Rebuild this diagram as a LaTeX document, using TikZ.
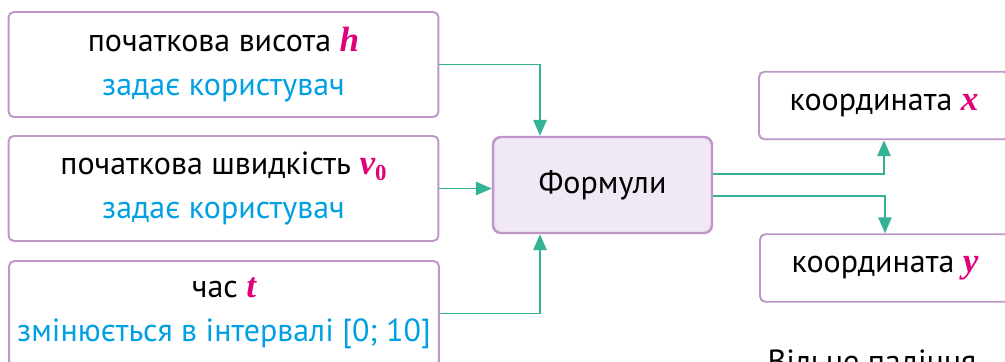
\documentclass[tikz,border=0pt]{standalone}
\usepackage{fontspec}
\setmainfont{PT Sans}
\newfontfamily\varfont{Liberation Serif}
\usetikzlibrary{arrows.meta, positioning, calc}
\definecolor{mpurple}{RGB}{190,150,200}
\definecolor{mfill}{RGB}{240,232,245}
\definecolor{mteal}{RGB}{52,178,150}
\definecolor{mblue}{RGB}{0,160,227}
\definecolor{mpink}{RGB}{226,0,122}
\newcommand{\var}[1]{{\varfont\bfseries\itshape\color{mpink}\fontsize{20}{25}\selectfont#1}}
\newcommand{\varsub}[1]{{\color{mpink}\raisebox{-0.35ex}{\varfont\bfseries\fontsize{13}{15}\selectfont#1}}}

\begin{document}
\begin{tikzpicture}[x=0.02cm, y=-0.02cm,
  box/.style={draw=mpurple, line width=1.1pt, rounded corners=3pt, fill=white,
  align=center, inner sep=0pt, font=\fontsize{18.2}{25}\selectfont},
  inbox/.style={box, minimum width=8.6cm, minimum height=2.1cm},
  outbox/.style={box, minimum width=5cm, minimum height=1.35cm},
  arr/.style={-{Triangle[length=9pt, width=7.5pt]}, line width=1.1pt, mteal}
]
\clip (0,0) rectangle (1005,362);
\node[inbox] (height) at (223.5, 64.5) {початкова висота \var{h}\\ \textcolor{mblue}{задає користувач}};
\node[inbox] (speed)  at (223.5,188.5) {початкова швидкість \var{v}\varsub{0}\\ \textcolor{mblue}{задає користувач}};
\node[inbox] (time)   at (224,  313.5) {час \var{t}\\ \textcolor{mblue}{змінюється в інтервалі [0; 10]}};
\node[box, fill=mfill, line width=1.4pt, rounded corners=4.5pt,
  minimum width=4.38cm, minimum height=1.92cm] (formulas) at (602.5,185) {Формули};
\node[outbox] (coordx) at (884,105.5) {координата \var{x}};
\node[outbox] (coordy) at (885,268)   {координата \var{y}};
\node[font=\fontsize{18.2}{25}\selectfont, anchor=base] (caption) at (872,372) {Вільне падіння};
\draw[arr] (height.east) -| ([xshift=-1.25cm]formulas.north);
\draw[arr] (speed.east) -- (speed.east -| formulas.west);
\draw[arr] (time.east) -| ([xshift=-1.25cm]formulas.south);
\draw[arr] ([yshift=0.22cm]formulas.east) -| (coordx.south);
\draw[arr] ([yshift=-0.22cm]formulas.east) -| (coordy.north);
\end{tikzpicture}
\end{document}
